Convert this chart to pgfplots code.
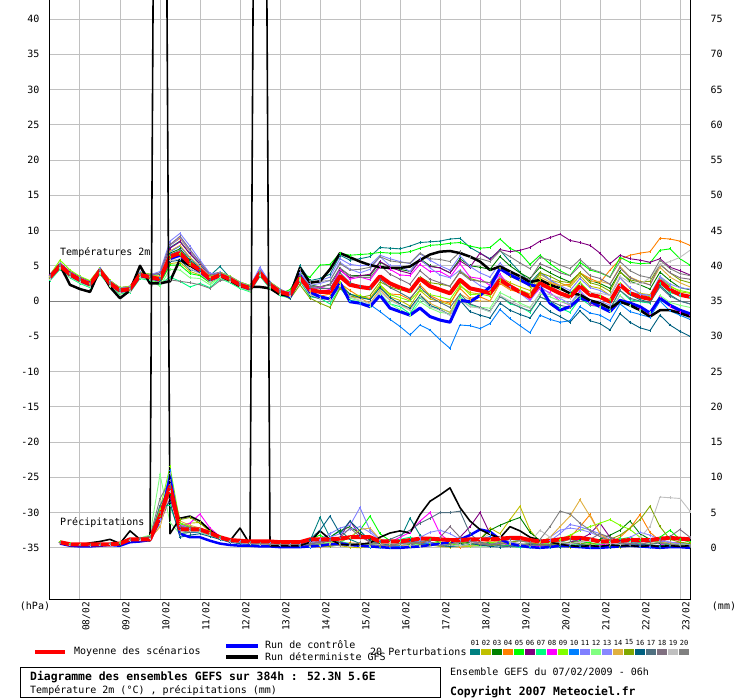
\documentclass[border=0pt]{standalone}
\usepackage{pgfplots}
\pgfplotsset{compat=1.18}
\usepackage{fontspec}
\setmainfont{DejaVu Sans Mono}
\definecolor{c01}{HTML}{008080}
\definecolor{c02}{HTML}{C0C000}
\definecolor{c03}{HTML}{008000}
\definecolor{c04}{HTML}{FF8000}
\definecolor{c05}{HTML}{00FF00}
\definecolor{c06}{HTML}{800080}
\definecolor{c07}{HTML}{00FF80}
\definecolor{c08}{HTML}{FF00FF}
\definecolor{c09}{HTML}{80FF00}
\definecolor{c10}{HTML}{0080FF}
\definecolor{c11}{HTML}{8080FF}
\definecolor{c12}{HTML}{80FF80}
\definecolor{c13}{HTML}{8888FF}
\definecolor{c14}{HTML}{E0B040}
\definecolor{c15}{HTML}{80A800}
\definecolor{c16}{HTML}{006080}
\definecolor{c17}{HTML}{507080}
\definecolor{c18}{HTML}{807080}
\definecolor{c19}{HTML}{C0C0C0}
\definecolor{c20}{HTML}{808080}
\definecolor{gridgray}{HTML}{C0C0C0}
\definecolor{zerogray}{HTML}{808080}
\definecolor{ctlblue}{HTML}{0000FF}
\definecolor{meanred}{HTML}{FF0000}
\pgfplotsset{
  pert/.style={line width=0.9pt, mark=+, mark size=1.4pt, mark options={solid}},
  meanst/.style={meanred, line width=4pt, line join=round},
  ctlst/.style={ctlblue, line width=3pt, line join=round},
  detst/.style={black, line width=2.5pt, line join=round},
}
\newcommand\fs[1]{\fontsize{#1}{#1}\selectfont}
\begin{document}
\begin{tikzpicture}[x=1pt,y=1pt]
\useasboundingbox (0,0) rectangle (740,700);
% ---------------- temperature axis ----------------
\begin{axis}[
  at={(50pt,100pt)}, anchor=south west, scale only axis,
  width=640pt, height=600pt,
  xmin=0, xmax=384, ymin=-42.4, ymax=42.7,
  axis x line*=bottom, axis y line*=left,
  axis line style={black, line width=1pt, -},
  xtick={18,42,...,378},
  xticklabels={08/02,09/02,10/02,11/02,12/02,13/02,14/02,15/02,16/02,17/02,18/02,19/02,20/02,21/02,22/02,23/02},
  ytick={-35,-30,...,40},
  grid=major, major grid style={color=gridgray, line width=1pt},
  major tick length=0pt,
  tick label style={font=\fs{10}},
  xticklabel style={rotate=90, anchor=north east, inner sep=2pt, font=\fs{9.5}},
  yticklabel style={xshift=-7pt},
  /pgf/number format/assume math mode=true,
  table/header=false, table/row sep=\\, table/y index=0, table/x expr={\coordindex*6},
]
\addplot[zerogray, line width=1pt, forget plot] coordinates {(0,0) (384,0)};
% 01
\addplot[c01,pert] table {
3.6\\5.2\\4.0\\3.2\\2.6\\4.5\\2.7\\1.7\\1.9\\3.9\\3.6\\3.8\\
7.6\\8.5\\6.7\\5.2\\3.6\\4.9\\3.3\\2.5\\2.0\\4.2\\2.5\\1.5\\
1.1\\5.0\\2.9\\3.2\\3.8\\6.5\\5.8\\6.0\\6.3\\7.6\\
7.5\\7.4\\7.8\\8.3\\8.4\\8.5\\8.8\\8.9\\7.6\\6.8\\
6.0\\7.2\\5.6\\4.1\\2.6\\4.1\\3.0\\2.0\\1.1\\2.5\\
1.2\\0.7\\-0.1\\2.2\\0.9\\0.2\\-0.2\\2.2\\0.9\\0.0\\
-0.4\\};
% 02
\addplot[c02,pert] table {
3.1\\4.7\\3.5\\2.7\\2.0\\4.0\\2.1\\1.0\\1.3\\3.4\\3.1\\2.5\\
5.3\\5.5\\4.2\\3.7\\2.6\\3.4\\2.8\\2.0\\1.4\\3.6\\1.9\\0.8\\
0.7\\3.2\\1.0\\0.4\\0.2\\2.6\\0.9\\0.7\\0.2\\2.1\\
0.6\\0.1\\-0.7\\1.5\\0.3\\-0.1\\-0.5\\2.1\\1.2\\1.0\\
1.2\\3.4\\2.6\\2.0\\1.5\\3.8\\3.0\\2.6\\2.0\\3.6\\
2.1\\1.8\\0.8\\3.3\\1.8\\1.1\\0.9\\3.2\\2.2\\1.3\\
1.1\\};
% 03
\addplot[c03,pert] table {
3.5\\5.1\\3.9\\3.1\\2.5\\4.4\\2.6\\1.6\\1.8\\3.8\\3.5\\3.4\\
6.8\\7.4\\5.8\\4.7\\3.3\\3.8\\3.2\\2.4\\1.9\\4.1\\2.4\\1.4\\
1.0\\3.4\\2.3\\2.0\\2.4\\4.6\\3.6\\3.6\\3.6\\5.5\\
4.8\\4.5\\4.2\\6.0\\5.0\\4.7\\4.0\\6.0\\5.0\\4.8\\
4.5\\6.3\\5.0\\4.0\\3.2\\4.8\\4.0\\3.3\\2.7\\4.0\\
2.9\\2.5\\1.8\\4.2\\2.8\\2.3\\1.7\\4.1\\2.9\\1.9\\
1.6\\};
% 04
\addplot[c04,pert] table {
3.7\\5.3\\4.1\\3.3\\2.7\\4.6\\2.8\\1.8\\2.0\\4.0\\3.7\\3.9\\
7.9\\8.9\\7.0\\5.4\\3.8\\4.0\\3.4\\2.6\\2.1\\4.3\\2.6\\1.6\\
1.1\\3.0\\1.5\\0.7\\1.0\\2.5\\1.5\\0.6\\0.4\\2.3\\
1.0\\0.9\\0.2\\2.3\\0.8\\0.1\\-0.3\\1.8\\0.4\\0.6\\
0.0\\2.5\\1.6\\1.2\\0.8\\3.0\\2.5\\2.2\\2.4\\4.0\\
3.2\\2.6\\4.4\\5.9\\6.5\\6.8\\7.0\\8.9\\8.8\\8.5\\
7.9\\};
% 05
\addplot[c05,pert] table {
3.2\\4.8\\3.6\\2.8\\2.2\\4.1\\2.3\\1.3\\1.5\\3.5\\3.2\\2.5\\
5.1\\5.1\\3.9\\3.6\\2.6\\3.5\\2.9\\2.1\\1.6\\3.8\\2.1\\1.1\\
1.6\\4.0\\3.4\\5.1\\5.2\\6.8\\6.5\\6.6\\6.7\\6.9\\
6.8\\6.8\\7.0\\7.5\\7.9\\8.0\\8.2\\8.3\\7.8\\7.5\\
7.6\\8.8\\7.5\\6.8\\5.2\\6.5\\5.3\\4.3\\3.6\\5.5\\
4.4\\4.0\\3.4\\6.2\\5.5\\5.3\\5.4\\7.2\\7.4\\6.0\\
5.1\\};
% 06
\addplot[c06,pert] table {
3.8\\5.4\\4.2\\3.4\\2.8\\4.7\\2.9\\1.9\\2.1\\4.1\\3.8\\3.9\\
7.5\\8.4\\6.7\\5.3\\3.7\\4.1\\3.5\\2.7\\2.2\\4.4\\2.7\\1.7\\
1.0\\3.5\\2.0\\2.0\\2.3\\4.4\\3.3\\3.6\\3.8\\5.6\\
4.8\\4.3\\3.9\\5.8\\4.9\\4.7\\4.0\\5.7\\4.8\\6.8\\
5.9\\7.3\\7.0\\7.2\\7.6\\8.5\\9.0\\9.5\\8.6\\8.3\\
7.9\\6.8\\5.3\\6.5\\6.0\\5.8\\5.5\\6.0\\4.8\\4.3\\
3.7\\};
% 07
\addplot[c07,pert] table {
2.9\\4.5\\3.3\\2.5\\1.9\\3.8\\2.0\\1.0\\1.2\\3.2\\2.9\\2.4\\
3.4\\2.8\\2.0\\2.5\\1.9\\3.2\\2.6\\1.8\\1.3\\3.5\\1.8\\0.8\\
0.4\\2.8\\0.6\\0.4\\-0.4\\1.9\\0.1\\-0.1\\-0.8\\1.0\\
-0.4\\-0.8\\-1.8\\0.5\\-0.8\\-1.0\\-1.6\\0.6\\-0.5\\-1.0\\
-1.5\\0.8\\-0.4\\-0.8\\-1.6\\0.6\\-0.1\\-1.0\\-1.6\\0.4\\
-0.6\\-0.8\\-1.2\\1.5\\0.2\\-0.1\\-0.3\\2.5\\1.2\\0.8\\
0.5\\};
% 08
\addplot[c08,pert] table {
3.6\\5.2\\4.0\\3.2\\2.6\\4.5\\2.7\\1.7\\1.9\\3.9\\3.6\\3.5\\
7.1\\7.8\\6.1\\4.9\\3.5\\3.9\\3.3\\2.5\\2.0\\4.7\\2.5\\1.5\\
1.2\\3.6\\1.6\\2.0\\1.6\\4.5\\3.1\\3.4\\3.0\\4.9\\
4.5\\3.7\\3.6\\5.2\\4.2\\4.2\\3.4\\5.3\\3.4\\3.2\\
2.2\\3.8\\2.0\\1.4\\0.2\\1.8\\1.2\\0.0\\-0.6\\1.3\\
-0.5\\-0.8\\-1.5\\0.8\\-0.6\\-1.2\\-1.8\\0.6\\-0.8\\-1.6\\
-2.0\\};
% 09
\addplot[c09,pert] table {
3.7\\5.8\\4.4\\3.5\\2.9\\4.7\\2.9\\1.9\\2.1\\4.1\\3.8\\3.5\\
6.5\\6.8\\5.4\\4.7\\3.5\\4.1\\3.5\\2.7\\2.2\\4.4\\2.7\\1.7\\
0.7\\3.4\\1.0\\0.4\\0.5\\2.6\\0.9\\0.8\\0.2\\2.3\\
0.9\\0.5\\0.0\\1.6\\0.9\\0.6\\0.2\\2.3\\0.9\\1.0\\
0.7\\2.9\\2.0\\1.6\\1.0\\3.2\\2.2\\1.8\\1.0\\2.7\\
1.2\\0.6\\0.2\\2.5\\1.2\\1.0\\0.6\\3.5\\2.0\\1.5\\
1.2\\};
% 10
\addplot[c10,pert] table {
3.4\\5.0\\3.8\\3.0\\2.4\\4.3\\2.5\\1.5\\1.7\\3.7\\3.4\\3.4\\
7.0\\7.8\\6.1\\4.8\\3.3\\3.7\\3.1\\2.3\\1.8\\4.0\\2.3\\1.3\\
0.8\\3.0\\1.0\\0.6\\0.4\\2.0\\0.0\\-0.3\\-0.5\\-1.5\\
-2.6\\-3.6\\-4.8\\-3.4\\-4.1\\-5.5\\-6.7\\-3.4\\-3.5\\-3.9\\
-3.2\\-1.2\\-2.5\\-3.5\\-4.5\\-2.0\\-2.6\\-3.0\\-2.8\\-0.8\\
-1.7\\-2.0\\-2.8\\-0.4\\-1.5\\-1.9\\-2.3\\0.0\\-1.4\\-2.0\\
-2.6\\};
% 11
\addplot[c11,pert] table {
3.7\\5.3\\4.1\\3.3\\2.7\\4.6\\2.8\\1.8\\2.0\\4.0\\3.7\\4.2\\
8.5\\9.6\\7.8\\5.8\\3.9\\4.0\\3.4\\2.6\\2.1\\4.8\\2.6\\1.6\\
1.1\\4.0\\2.5\\2.9\\3.4\\6.0\\5.2\\5.0\\5.1\\6.5\\
6.0\\5.6\\5.3\\6.7\\5.8\\5.0\\4.4\\6.4\\4.9\\4.0\\
3.4\\5.4\\4.0\\3.1\\2.0\\4.0\\3.0\\2.2\\1.5\\3.2\\
1.9\\1.5\\0.8\\3.3\\1.9\\1.0\\0.8\\3.3\\1.9\\1.0\\
0.6\\};
% 12
\addplot[c12,pert] table {
3.0\\4.6\\3.4\\2.6\\2.0\\3.9\\2.1\\1.1\\1.3\\3.3\\3.0\\2.1\\
4.5\\4.4\\3.3\\3.2\\2.3\\3.3\\2.7\\1.9\\1.4\\3.6\\1.9\\0.9\\
0.6\\3.0\\1.0\\0.4\\0.5\\2.0\\0.4\\0.0\\-0.8\\0.9\\
-0.4\\-1.2\\-2.0\\-0.1\\-1.0\\-1.6\\-1.8\\0.4\\-0.8\\-0.9\\
-1.0\\1.2\\0.5\\-0.3\\-0.9\\1.0\\0.6\\0.0\\-0.5\\1.1\\
-0.2\\-0.9\\-1.5\\0.8\\-0.6\\-1.3\\-1.6\\0.8\\-0.2\\-0.6\\
-0.9\\};
% 13
\addplot[c13,pert] table {
3.6\\5.2\\4.0\\3.2\\2.6\\4.5\\2.7\\1.7\\1.9\\3.9\\3.6\\3.9\\
7.9\\9.0\\7.1\\5.4\\3.7\\3.9\\3.3\\2.5\\2.0\\4.5\\2.5\\1.5\\
1.0\\4.0\\2.2\\2.5\\2.9\\5.5\\4.5\\4.0\\4.5\\6.3\\
5.0\\5.0\\4.2\\6.0\\4.7\\3.7\\3.3\\4.4\\3.2\\2.2\\
1.7\\3.5\\2.0\\1.1\\0.0\\2.1\\1.0\\0.4\\-0.4\\1.5\\
0.0\\0.0\\-0.6\\2.2\\1.3\\0.9\\0.8\\3.5\\2.4\\1.9\\
1.7\\};
% 14
\addplot[c14,pert] table {
3.5\\5.1\\3.9\\3.1\\2.5\\4.4\\2.6\\1.6\\1.8\\3.8\\3.5\\3.5\\
7.1\\7.9\\6.2\\4.9\\3.4\\3.8\\3.2\\2.4\\1.9\\4.1\\2.4\\1.4\\
0.8\\2.9\\1.3\\0.4\\0.2\\2.1\\0.6\\0.4\\-0.3\\1.6\\
0.2\\-0.4\\-1.3\\0.9\\-0.3\\-1.0\\-1.6\\1.0\\0.2\\0.0\\
0.0\\2.6\\1.7\\1.4\\1.0\\3.4\\2.7\\2.2\\2.2\\4.0\\
2.8\\2.8\\2.4\\4.9\\3.4\\2.8\\2.3\\4.8\\3.4\\2.6\\
2.0\\};
% 15
\addplot[c15,pert] table {
3.2\\4.8\\3.6\\2.8\\2.2\\4.1\\2.3\\1.3\\1.5\\3.5\\3.2\\2.9\\
6.1\\6.6\\5.1\\4.2\\2.9\\3.5\\2.9\\2.1\\1.6\\3.8\\2.1\\1.1\\
0.3\\2.3\\0.4\\-0.3\\-0.9\\1.8\\0.7\\0.5\\0.8\\2.7\\
2.0\\1.6\\1.4\\3.4\\2.6\\2.4\\2.1\\4.2\\3.2\\2.8\\
2.6\\4.6\\3.5\\2.9\\2.1\\4.0\\3.5\\2.8\\2.6\\4.0\\
2.6\\2.2\\1.4\\4.1\\3.0\\2.7\\2.8\\5.2\\4.0\\3.0\\
2.6\\};
% 16
\addplot[c16,pert] table {
3.4\\5.0\\3.8\\3.0\\2.4\\4.3\\2.5\\1.5\\1.7\\3.7\\3.4\\2.8\\
5.6\\5.8\\4.5\\4.0\\2.9\\3.7\\3.1\\2.3\\1.8\\4.0\\2.3\\1.3\\
0.4\\2.9\\0.8\\0.3\\0.4\\2.2\\1.0\\0.5\\0.2\\1.9\\
0.5\\-0.4\\-1.0\\0.8\\-0.6\\-1.2\\-2.0\\0.1\\-1.5\\-2.0\\
-2.4\\-0.3\\-1.3\\-1.9\\-2.4\\-0.4\\-1.5\\-2.2\\-3.0\\-1.4\\
-2.8\\-3.2\\-4.1\\-1.8\\-3.0\\-3.8\\-4.2\\-2.0\\-3.4\\-4.3\\
-5.0\\};
% 17
\addplot[c17,pert] table {
3.3\\4.9\\3.7\\2.9\\2.3\\4.2\\2.4\\1.4\\1.6\\3.6\\3.3\\3.2\\
6.6\\7.2\\5.6\\4.5\\3.1\\3.6\\3.0\\2.2\\1.7\\3.9\\2.2\\1.2\\
0.9\\3.6\\1.9\\1.8\\1.8\\4.0\\2.6\\2.1\\1.8\\3.1\\
1.9\\1.2\\0.4\\2.0\\0.6\\-0.2\\-0.9\\1.0\\-0.4\\-0.9\\
-1.4\\0.6\\-0.2\\-0.9\\-1.4\\0.6\\0.0\\-0.6\\-0.9\\0.8\\
-0.3\\-0.5\\-1.1\\1.5\\0.4\\0.0\\-0.2\\2.0\\0.7\\0.0\\
-0.4\\};
% 18
\addplot[c18,pert] table {
3.6\\5.2\\4.0\\3.2\\2.6\\4.5\\2.7\\1.7\\1.9\\3.9\\3.6\\4.0\\
8.0\\9.2\\7.3\\5.5\\3.7\\3.9\\3.3\\2.5\\2.0\\4.2\\2.5\\1.5\\
1.0\\3.7\\2.1\\2.0\\2.3\\4.7\\3.6\\3.4\\3.3\\5.1\\
3.8\\3.1\\2.4\\4.3\\3.1\\2.6\\2.1\\4.1\\3.0\\2.8\\
2.6\\4.7\\4.0\\3.5\\3.1\\5.3\\4.7\\4.0\\3.6\\5.0\\
3.6\\3.2\\2.4\\4.7\\3.3\\2.7\\2.3\\5.2\\4.0\\3.3\\
3.1\\};
% 19
\addplot[c19,pert] table {
3.1\\4.7\\3.5\\2.7\\2.1\\4.0\\2.2\\1.2\\1.4\\3.4\\3.1\\2.7\\
5.7\\6.0\\4.6\\3.9\\2.7\\3.4\\2.8\\2.0\\1.5\\3.7\\2.0\\1.0\\
0.6\\2.9\\0.9\\0.4\\0.2\\2.2\\0.6\\0.1\\-0.4\\1.3\\
0.1\\-0.6\\-1.3\\0.6\\-0.8\\-1.3\\-2.0\\0.2\\-0.8\\-1.0\\
-1.5\\0.8\\0.0\\-0.6\\-1.0\\1.2\\0.9\\0.5\\0.4\\2.3\\
1.2\\1.1\\0.8\\3.5\\2.6\\2.4\\3.3\\5.2\\5.6\\6.2\\
7.2\\};
% 20
\addplot[c20,pert] table {
3.4\\5.0\\3.8\\3.0\\2.4\\4.3\\2.5\\1.5\\1.7\\3.7\\3.4\\2.6\\
3.0\\2.8\\2.6\\2.3\\1.8\\2.9\\3.1\\2.3\\1.8\\4.0\\2.3\\1.3\\
1.3\\4.5\\2.8\\2.8\\2.9\\5.3\\4.4\\4.5\\4.8\\6.3\\
5.7\\5.5\\5.4\\6.8\\6.0\\5.9\\5.6\\7.0\\6.2\\6.0\\
5.6\\7.1\\6.3\\5.4\\4.6\\6.2\\5.8\\5.1\\4.6\\5.9\\
4.6\\4.1\\3.4\\5.6\\4.3\\3.6\\3.3\\5.8\\4.6\\3.9\\
3.6\\};
% control run
\addplot[ctlst] table {
3.3\\4.9\\3.7\\2.9\\2.3\\4.2\\2.4\\1.4\\1.6\\3.6\\3.3\\3.0\\
6.0\\6.5\\5.1\\4.2\\3.0\\3.6\\3.0\\2.2\\1.7\\3.9\\2.2\\1.2\\
0.6\\3.6\\1.3\\0.6\\0.3\\2.6\\-0.1\\-0.3\\-0.8\\0.8\\
-1.0\\-1.5\\-2.0\\-1.0\\-2.2\\-2.7\\-3.0\\0.1\\-0.1\\0.8\\
2.0\\4.6\\3.7\\3.0\\2.3\\2.0\\-0.3\\-1.3\\-0.8\\0.4\\
0.0\\-0.8\\-1.5\\0.1\\-0.3\\-0.8\\-1.7\\0.4\\-0.6\\-1.3\\
-1.8\\};
% deterministic GFS
\addplot[detst] table {
3.4\\5.1\\2.3\\1.7\\1.3\\4.5\\2.0\\0.4\\1.5\\5.0\\2.5\\2.5\\
2.8\\5.9\\5.0\\4.3\\3.2\\3.6\\2.9\\2.1\\2.0\\2.0\\1.8\\0.9\\
0.8\\4.7\\2.6\\2.8\\4.5\\6.8\\6.2\\5.6\\5.1\\4.8\\
4.7\\4.7\\4.9\\5.8\\6.6\\7.0\\7.1\\6.8\\6.3\\5.6\\
4.4\\4.9\\4.2\\3.5\\2.7\\3.0\\2.3\\1.8\\1.1\\0.9\\
0.1\\-0.3\\-1.0\\-0.1\\-0.6\\-1.3\\-2.2\\-1.3\\-1.3\\-1.7\\
-2.2\\};
% ensemble mean
\addplot[meanst] table {
3.4\\5.0\\3.8\\3.0\\2.4\\4.3\\2.5\\1.5\\1.7\\3.7\\3.4\\3.1\\
6.3\\6.8\\5.3\\4.4\\3.1\\3.7\\3.1\\2.3\\1.8\\4.0\\2.3\\1.3\\
0.9\\3.3\\1.6\\1.3\\1.3\\3.5\\2.3\\2.0\\1.8\\3.5\\
2.5\\1.9\\1.4\\3.2\\2.1\\1.6\\1.1\\3.0\\1.8\\1.5\\
1.1\\3.0\\2.1\\1.3\\0.6\\2.5\\1.8\\1.1\\0.6\\2.1\\
0.9\\0.6\\-0.1\\2.3\\1.1\\0.6\\0.3\\2.8\\1.6\\0.9\\
0.6\\};
\end{axis}
% ---------------- precipitation axis ----------------
\begin{axis}[
  at={(50pt,100pt)}, anchor=south west, scale only axis,
  width=640pt, height=600pt,
  xmin=0, xmax=384, ymin=-7.4, ymax=77.7,
  axis x line=none, axis y line*=right,
  axis line style={black, line width=1pt, -},
  ytick={0,5,...,75},
  major tick length=0pt,
  tick label style={font=\fs{10}},
  yticklabel style={anchor=west, xshift=17pt},
  /pgf/number format/assume math mode=true,
  table/header=false, table/row sep=\\, table/y index=0, table/x expr={\coordindex*6+6},
]
\addplot[c01,pert] table {
0.8\\0.5\\0.4\\0.4\\0.5\\0.5\\0.6\\1.1\\1.3\\1.4\\3.5\\9.5\\
3.5\\3.0\\2.4\\1.8\\1.2\\0.9\\0.7\\0.6\\0.5\\0.5\\0.4\\0.3\\
0.3\\1.0\\4.3\\1.5\\2.5\\1.2\\0.6\\0.4\\0.3\\0.5\\
1.2\\4.2\\1.8\\0.8\\0.5\\0.3\\0.2\\0.3\\0.5\\0.8\\
0.4\\0.2\\0.1\\0.0\\0.1\\0.3\\0.5\\0.3\\0.2\\0.1\\
0.0\\0.2\\0.5\\0.8\\0.4\\0.2\\0.1\\0.3\\0.5\\0.4\\};
\addplot[c02,pert] table {
0.7\\0.4\\0.4\\0.3\\0.4\\0.5\\0.7\\1.2\\1.3\\1.5\\4.0\\8.0\\
3.2\\3.5\\3.6\\2.2\\1.6\\1.0\\0.8\\0.6\\0.6\\0.5\\0.4\\0.4\\
0.3\\0.2\\0.4\\0.6\\0.3\\0.1\\0.0\\0.2\\0.4\\0.3\\
0.5\\0.8\\0.6\\0.4\\0.2\\0.1\\0.3\\0.6\\1.2\\2.8\\
2.0\\4.0\\5.9\\2.5\\0.8\\0.4\\0.2\\0.1\\0.3\\0.6\\
0.4\\0.2\\0.1\\0.3\\0.5\\0.3\\0.2\\0.4\\0.6\\0.5\\};
\addplot[c03,pert] table {
0.8\\0.6\\0.4\\0.4\\0.5\\0.6\\0.5\\1.0\\1.2\\1.4\\5.0\\7.5\\
3.0\\2.8\\2.5\\2.0\\1.5\\1.1\\0.9\\0.7\\0.6\\0.6\\0.5\\0.4\\
0.4\\0.6\\1.0\\1.5\\2.4\\3.0\\2.0\\1.2\\0.6\\0.5\\
0.7\\1.0\\0.8\\0.5\\0.3\\0.4\\0.6\\0.8\\1.2\\2.5\\
3.2\\3.8\\4.3\\2.2\\1.0\\0.5\\0.3\\0.4\\0.6\\0.8\\
1.2\\1.8\\2.5\\3.8\\2.0\\1.2\\0.6\\0.4\\0.3\\0.5\\};
\addplot[c04,pert] table {
0.9\\0.5\\0.4\\0.4\\0.4\\0.5\\0.6\\1.1\\1.2\\1.3\\3.0\\9.0\\
2.5\\2.6\\2.4\\2.0\\1.4\\1.0\\0.8\\0.7\\0.6\\0.5\\0.5\\0.4\\
0.3\\0.2\\0.1\\0.3\\0.5\\0.7\\0.6\\0.4\\0.3\\0.2\\
0.3\\0.5\\0.8\\0.6\\0.3\\0.2\\0.1\\0.2\\0.4\\0.5\\
0.3\\0.2\\0.4\\0.6\\0.8\\0.6\\0.9\\1.5\\3.0\\4.7\\
2.0\\0.8\\1.5\\2.8\\4.7\\2.2\\1.0\\0.6\\0.8\\0.5\\};
\addplot[c05,pert] table {
0.7\\0.5\\0.4\\0.4\\0.5\\0.5\\0.6\\1.0\\1.1\\1.3\\4.5\\8.0\\
3.5\\2.8\\2.6\\2.1\\1.4\\1.0\\0.8\\0.6\\0.6\\0.5\\0.5\\0.4\\
0.5\\1.2\\1.8\\1.0\\0.8\\1.5\\2.5\\4.5\\2.0\\1.0\\
0.6\\0.5\\0.8\\1.2\\0.8\\0.5\\0.3\\0.5\\0.8\\0.6\\
0.4\\0.3\\0.5\\0.7\\0.5\\0.3\\0.5\\0.8\\1.0\\0.7\\
0.5\\0.8\\1.2\\1.5\\1.0\\0.8\\1.5\\2.5\\1.2\\0.8\\};
\addplot[c06,pert] table {
0.8\\0.5\\0.5\\0.4\\0.5\\0.6\\0.6\\1.1\\1.2\\1.4\\3.5\\7.0\\
2.8\\3.0\\2.7\\2.2\\1.5\\1.0\\0.8\\0.7\\0.6\\0.6\\0.5\\0.4\\
0.3\\0.4\\0.6\\1.0\\1.5\\3.8\\1.8\\0.8\\0.5\\0.3\\
0.2\\0.4\\0.6\\0.8\\0.5\\0.6\\1.5\\3.0\\5.0\\2.0\\
0.8\\0.5\\0.3\\0.2\\0.4\\0.6\\0.5\\0.8\\1.2\\2.0\\
3.5\\1.5\\1.0\\0.7\\0.5\\0.8\\1.0\\0.6\\0.4\\0.3\\};
\addplot[c07,pert] table {
0.7\\0.4\\0.4\\0.3\\0.4\\0.5\\0.6\\1.0\\1.2\\1.4\\6.0\\6.0\\
2.0\\2.2\\2.3\\2.0\\1.3\\0.9\\0.7\\0.6\\0.5\\0.5\\0.4\\0.3\\
0.2\\0.3\\0.5\\0.7\\0.9\\0.6\\0.4\\0.3\\0.5\\0.8\\
1.2\\1.5\\1.0\\0.7\\0.4\\0.3\\0.2\\0.4\\0.6\\0.5\\
0.3\\0.2\\0.1\\0.2\\0.4\\0.8\\1.0\\0.6\\0.4\\0.3\\
0.5\\0.9\\1.3\\0.9\\0.6\\0.4\\0.3\\0.5\\0.7\\0.4\\};
\addplot[c08,pert] table {
0.8\\0.5\\0.4\\0.4\\0.4\\0.5\\0.6\\1.1\\1.3\\1.4\\4.0\\9.0\\
3.0\\3.5\\4.8\\2.8\\1.6\\1.0\\0.8\\0.7\\0.6\\0.5\\0.5\\0.4\\
0.3\\0.2\\0.4\\0.6\\0.8\\0.5\\0.3\\0.2\\0.4\\0.8\\
1.5\\2.2\\3.8\\5.0\\2.0\\0.8\\0.5\\0.3\\0.2\\0.4\\
0.6\\0.4\\0.2\\0.1\\0.2\\0.3\\0.5\\0.4\\0.3\\0.2\\
0.4\\0.6\\0.8\\0.5\\0.3\\0.2\\0.4\\0.8\\0.6\\0.4\\};
\addplot[c09,pert] table {
0.9\\0.6\\0.5\\0.4\\0.5\\0.6\\0.7\\1.2\\1.4\\1.6\\5.5\\11.5\\
3.5\\3.0\\2.6\\2.0\\1.4\\1.0\\0.8\\0.7\\0.6\\0.6\\0.5\\0.4\\
0.4\\0.3\\0.5\\0.8\\0.6\\0.4\\0.3\\0.5\\0.7\\0.5\\
0.3\\0.2\\0.4\\0.6\\0.8\\0.5\\0.3\\0.2\\0.4\\0.7\\
0.9\\0.6\\0.4\\0.3\\0.5\\0.8\\1.2\\1.8\\2.5\\3.0\\
3.5\\4.0\\3.2\\2.6\\1.5\\1.0\\0.8\\0.6\\0.5\\0.6\\};
\addplot[c10,pert] table {
0.8\\0.5\\0.4\\0.4\\0.5\\0.6\\0.6\\1.0\\1.2\\1.3\\4.0\\11.0\\
2.5\\2.2\\2.2\\1.8\\1.2\\0.8\\0.6\\0.5\\0.4\\0.4\\0.3\\0.3\\
0.2\\0.1\\0.2\\0.4\\0.6\\0.4\\0.2\\0.1\\0.0\\0.1\\
0.2\\0.3\\0.5\\0.7\\0.4\\0.2\\0.3\\0.6\\1.2\\1.6\\
0.8\\0.4\\0.2\\0.1\\0.0\\0.1\\0.2\\0.4\\0.3\\0.1\\
0.0\\0.1\\0.2\\0.3\\0.2\\0.1\\0.2\\0.4\\0.3\\0.2\\};
\addplot[c11,pert] table {
0.8\\0.5\\0.4\\0.4\\0.5\\0.5\\0.6\\1.1\\1.2\\1.4\\3.5\\8.5\\
3.0\\2.8\\2.6\\2.1\\1.5\\1.1\\0.9\\0.7\\0.6\\0.6\\0.5\\0.5\\
0.5\\0.8\\1.2\\2.0\\2.8\\3.2\\5.7\\2.5\\1.2\\0.8\\
0.6\\0.8\\1.0\\0.7\\0.5\\0.8\\1.2\\0.9\\0.6\\0.4\\
0.5\\0.8\\1.0\\0.7\\0.5\\1.0\\2.0\\3.3\\3.0\\2.5\\
2.0\\1.2\\0.8\\0.6\\0.8\\1.2\\1.0\\0.7\\0.5\\0.4\\};
\addplot[c12,pert] table {
0.8\\0.5\\0.4\\0.4\\0.5\\0.5\\0.6\\1.2\\1.4\\1.8\\10.4\\3.6\\
2.0\\2.4\\2.2\\1.8\\1.2\\0.9\\0.7\\0.6\\0.5\\0.5\\0.4\\0.4\\
0.3\\0.4\\0.6\\0.8\\0.6\\0.4\\0.3\\0.2\\0.3\\0.5\\
0.7\\0.6\\0.4\\0.3\\0.5\\0.7\\0.5\\0.3\\0.2\\0.3\\
0.5\\0.7\\0.5\\0.3\\0.4\\0.6\\0.8\\0.6\\0.4\\0.5\\
0.7\\0.9\\0.7\\0.5\\0.4\\0.6\\0.8\\0.6\\0.5\\0.4\\};
\addplot[c13,pert] table {
0.8\\0.5\\0.4\\0.4\\0.5\\0.6\\0.6\\1.1\\1.3\\1.4\\4.0\\10.5\\
3.2\\2.8\\2.6\\2.2\\1.5\\1.0\\0.8\\0.7\\0.6\\0.5\\0.5\\0.4\\
0.4\\0.6\\1.0\\1.5\\2.0\\2.6\\3.0\\2.2\\1.0\\0.6\\
0.5\\0.8\\1.5\\2.2\\2.5\\2.0\\1.2\\0.8\\0.5\\0.4\\
0.6\\0.8\\0.5\\0.3\\0.6\\1.5\\2.5\\2.8\\2.6\\2.2\\
1.6\\1.0\\0.8\\1.5\\2.2\\1.8\\1.2\\0.8\\0.6\\0.5\\};
\addplot[c14,pert] table {
0.8\\0.5\\0.5\\0.4\\0.4\\0.5\\0.6\\1.0\\1.2\\1.3\\3.0\\8.0\\
3.8\\3.2\\2.8\\2.2\\1.5\\1.1\\0.8\\0.7\\0.6\\0.5\\0.5\\0.4\\
0.3\\0.2\\0.4\\0.6\\0.9\\1.5\\2.6\\2.8\\1.2\\0.6\\
0.4\\0.3\\0.2\\0.3\\0.5\\0.4\\0.2\\0.3\\0.6\\1.0\\
0.8\\0.5\\0.3\\0.4\\0.8\\1.5\\3.0\\4.5\\6.8\\4.5\\
2.0\\1.0\\0.6\\0.4\\0.3\\0.5\\0.8\\0.6\\0.4\\0.3\\};
\addplot[c15,pert] table {
0.8\\0.5\\0.4\\0.4\\0.5\\0.6\\0.6\\1.1\\1.3\\1.5\\4.5\\9.5\\
4.0\\4.3\\3.5\\2.5\\1.6\\1.0\\0.8\\0.7\\0.6\\0.5\\0.4\\0.4\\
0.3\\0.4\\0.3\\0.2\\0.4\\0.6\\0.5\\0.3\\0.2\\0.4\\
0.6\\0.8\\0.5\\0.3\\0.4\\0.6\\0.8\\0.6\\0.4\\0.3\\
0.5\\0.8\\1.0\\0.7\\0.5\\0.4\\0.6\\0.8\\0.6\\0.5\\
0.8\\1.2\\1.8\\2.8\\4.0\\5.9\\3.0\\1.2\\0.8\\0.6\\};
\addplot[c16,pert] table {
0.8\\0.5\\0.4\\0.4\\0.5\\0.5\\0.6\\1.1\\1.3\\1.6\\5.0\\6.5\\
1.5\\1.8\\2.0\\1.6\\1.2\\0.8\\0.6\\0.5\\0.5\\0.4\\0.4\\0.3\\
0.4\\1.2\\2.5\\4.5\\2.0\\3.8\\2.4\\1.0\\0.5\\0.4\\
0.6\\1.0\\0.6\\0.4\\0.3\\0.2\\0.4\\0.6\\0.4\\0.2\\
0.1\\0.2\\0.3\\0.5\\0.3\\0.2\\0.1\\0.2\\0.4\\0.3\\
0.2\\0.1\\0.2\\0.3\\0.5\\0.4\\0.3\\0.2\\0.3\\0.2\\};
\addplot[c17,pert] table {
0.8\\0.5\\0.4\\0.4\\0.5\\0.5\\0.6\\1.1\\1.2\\1.5\\6.0\\8.5\\
2.0\\2.2\\2.3\\1.9\\1.3\\0.9\\0.7\\0.6\\0.5\\0.5\\0.4\\0.4\\
0.3\\0.5\\0.8\\1.2\\0.8\\0.5\\0.4\\0.6\\0.9\\1.2\\
1.8\\2.5\\3.5\\4.2\\5.0\\5.0\\5.2\\2.0\\0.8\\0.5\\
0.3\\0.2\\0.4\\0.6\\0.4\\0.3\\0.5\\0.7\\0.5\\0.3\\
0.2\\0.4\\0.6\\0.4\\0.3\\0.5\\0.7\\0.5\\0.3\\0.2\\};
\addplot[c18,pert] table {
0.8\\0.5\\0.4\\0.4\\0.5\\0.6\\0.6\\1.2\\1.3\\1.5\\5.0\\9.0\\
3.0\\2.9\\2.6\\2.1\\1.5\\1.0\\0.8\\0.7\\0.6\\0.5\\0.5\\0.4\\
0.4\\0.6\\0.8\\1.0\\1.4\\2.8\\1.6\\0.8\\0.5\\0.3\\
0.4\\0.6\\0.8\\1.0\\1.5\\3.0\\1.5\\0.8\\0.5\\0.4\\
0.6\\0.8\\0.6\\0.4\\0.3\\0.5\\0.8\\1.2\\0.8\\1.2\\
2.0\\1.5\\0.8\\0.6\\0.5\\0.8\\1.2\\1.6\\2.6\\1.5\\};
\addplot[c19,pert] table {
0.7\\0.4\\0.4\\0.3\\0.4\\0.5\\0.6\\1.0\\1.1\\1.3\\3.5\\8.0\\
2.5\\2.4\\2.3\\1.9\\1.3\\0.9\\0.7\\0.6\\0.5\\0.5\\0.4\\0.4\\
0.3\\0.2\\0.3\\0.5\\0.4\\0.3\\0.2\\0.3\\0.5\\0.7\\
0.5\\0.3\\0.2\\0.3\\0.5\\0.4\\0.3\\0.6\\1.2\\2.0\\
1.5\\0.8\\0.5\\0.8\\2.5\\1.5\\0.8\\0.6\\0.8\\1.0\\
0.8\\0.6\\0.5\\0.8\\1.5\\3.0\\7.2\\7.1\\7.0\\5.2\\};
\addplot[c20,pert] table {
0.8\\0.5\\0.4\\0.4\\0.5\\0.6\\0.6\\1.2\\1.4\\1.6\\7.0\\9.5\\
2.5\\2.6\\2.4\\2.0\\1.4\\1.0\\0.8\\0.7\\0.6\\0.5\\0.5\\0.4\\
0.3\\0.4\\0.6\\0.4\\0.3\\0.5\\0.7\\0.5\\0.3\\0.4\\
0.6\\0.8\\0.6\\0.4\\0.3\\0.5\\0.8\\1.0\\0.7\\0.5\\
0.8\\1.2\\1.0\\0.8\\1.2\\3.0\\5.2\\4.8\\3.5\\2.5\\
1.6\\1.0\\0.7\\0.5\\0.8\\1.0\\0.7\\0.5\\0.4\\0.3\\};
% control
\addplot[ctlblue, line width=2.5pt, line join=round] table {
0.6\\0.3\\0.2\\0.2\\0.3\\0.4\\0.3\\0.8\\0.9\\1.1\\4.0\\10.0\\
2.0\\1.5\\1.5\\1.0\\0.6\\0.4\\0.3\\0.3\\0.2\\0.2\\0.1\\0.1\\
0.1\\0.2\\0.3\\0.5\\0.6\\0.4\\0.3\\0.2\\0.1\\0.0\\
0.0\\0.1\\0.2\\0.4\\0.6\\0.8\\1.2\\1.8\\2.6\\2.3\\
1.2\\0.6\\0.3\\0.1\\0.0\\0.1\\0.3\\0.2\\0.1\\0.0\\
0.0\\0.1\\0.2\\0.3\\0.2\\0.1\\0.0\\0.1\\0.1\\0.0\\};
% deterministic
\addplot[black, line width=1.6pt, line join=round] table {
0.8\\0.5\\0.4\\0.7\\0.9\\1.2\\0.6\\2.4\\1.2\\1.0\\250\\2.0\\
4.2\\4.5\\3.8\\2.5\\1.5\\1.0\\2.8\\0.5\\250\\0.3\\0.3\\0.3\\
0.3\\0.8\\2.4\\1.2\\0.5\\0.4\\0.5\\0.7\\1.5\\2.1\\
2.4\\2.1\\4.7\\6.6\\7.5\\8.5\\5.7\\3.8\\2.6\\1.9\\
1.4\\3.0\\2.4\\1.5\\1.1\\0.8\\0.5\\0.3\\0.2\\0.3\\
0.2\\0.4\\0.3\\0.3\\0.2\\0.3\\0.2\\0.3\\0.2\\0.3\\};
% mean
\addplot[meanst] table {
0.8\\0.5\\0.5\\0.5\\0.5\\0.5\\0.6\\1.2\\1.2\\1.2\\4.5\\8.7\\
2.6\\2.6\\2.6\\2.1\\1.5\\1.1\\1.0\\0.9\\0.9\\0.9\\0.8\\0.8\\
0.8\\1.2\\1.2\\1.2\\1.3\\1.5\\1.5\\1.5\\0.9\\0.9\\
0.9\\1.1\\1.3\\1.3\\1.2\\1.1\\1.1\\1.2\\1.2\\1.2\\
1.3\\1.4\\1.4\\1.1\\0.9\\1.0\\1.2\\1.4\\1.4\\1.2\\
0.9\\0.9\\1.0\\1.1\\1.1\\1.1\\1.3\\1.4\\1.3\\1.2\\};
\end{axis}
% ---------------- texts and legend ----------------
\node[anchor=west, inner sep=0pt, font=\fs{10}] at (60,447) {Températures 2m};
\node[anchor=west, inner sep=0pt, font=\fs{10}] at (60,177) {Précipitations};
\node[inner sep=0pt, font=\fs{10}] at (35,94) {(hPa)};
\node[inner sep=0pt, font=\fs{10}] at (724,94) {(mm)};
\draw[meanred, line width=4pt] (35,48) -- (65,48);
\node[anchor=west, inner sep=0pt, font=\fs{10}] at (74,48) {Moyenne des scénarios};
\draw[ctlblue, line width=4pt] (226,54) -- (258,54);
\draw[black, line width=4pt] (226,43) -- (258,43);
\node[anchor=west, inner sep=0pt, font=\fs{10}] at (265,55) {Run de contrôle};
\node[anchor=west, inner sep=0pt, font=\fs{10}] at (265,43) {Run déterministe GFS};
\node[anchor=west, inner sep=0pt, font=\fs{10}] at (370,48) {20 Perturbations};
\foreach \c [count=\n] in {c01,c02,c03,c04,c05,c06,c07,c08,c09,c10,c11,c12,c13,c14,c15,c16,c17,c18,c19,c20}{
  \fill[\c] ({470+11*(\n-1)},45) rectangle ++(10,6);
}
\foreach \t [count=\n] in {01,02,03,04,05,06,07,08,09,10,11,12,13,14,15,16,17,18,19,20}{
  \node[inner sep=0pt, font=\fs{7}] at ({475+11*(\n-1)},57.5) {\t};
}
\draw[black, line width=1pt] (20,2) rectangle (440,32);
\node[anchor=west, inner sep=0pt, font=\bfseries\fs{11.4}] at (30,23) {Diagramme des ensembles GEFS sur 384h : 52.3N 5.6E};
\node[anchor=west, inner sep=0pt, font=\fs{10}] at (30,9) {Température 2m (°C) , précipitations (mm)};
\node[anchor=west, inner sep=0pt, font=\fs{10}] at (450,28) {Ensemble GEFS du 07/02/2009 - 06h};
\node[anchor=west, inner sep=0pt, font=\bfseries\fs{11.4}] at (450,8) {Copyright 2007 Meteociel.fr};
\end{tikzpicture}
\end{document}
